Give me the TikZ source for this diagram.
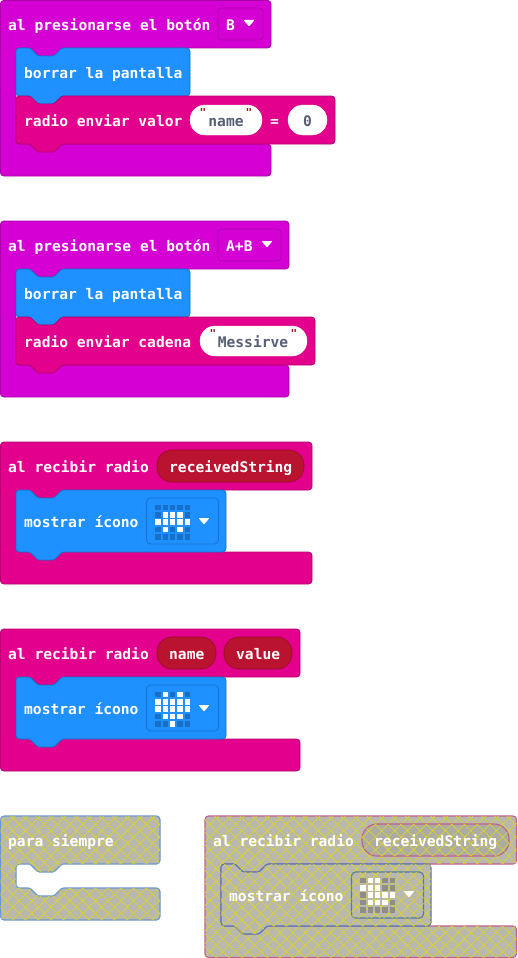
\documentclass[tikz,border=0pt]{standalone}
\usepackage{fontspec}
\setmonofont{DejaVu Sans Mono}
\usepackage{xcolor}
\usetikzlibrary{patterns.meta,positioning}
\definecolor{hatpurple}{HTML}{D400D4}
\definecolor{hatpurpleline}{HTML}{A800A8}
\definecolor{basicblue}{HTML}{1E90FF}
\definecolor{basicblueline}{HTML}{1873CC}
\definecolor{radiopink}{HTML}{E3008C}
\definecolor{radiopinkline}{HTML}{B6006F}
\definecolor{varred}{HTML}{BA1330}
\definecolor{varredline}{HTML}{950F26}
\definecolor{textslate}{HTML}{575E75}
\definecolor{quotered}{HTML}{A31515}
\definecolor{ledoff}{HTML}{176FC8}
\definecolor{ghostgray}{HTML}{B8B8AE}
\definecolor{ghostpill}{HTML}{ACACA2}
\definecolor{ghostled}{HTML}{8E8E86}
\definecolor{ghostyellow}{HTML}{D8D22E}
\definecolor{ghostblue}{HTML}{6A98D0}
\definecolor{ghostindigo}{HTML}{5A78B8}
\definecolor{ghostpink}{HTML}{C0608F}

% Block outlines, all in pixels of the reference
% hat block: x0, y0, x1, header bottom, lower bar top, y1, inner x
\newcommand{\hatpath}[7]{
    (#1,#2) -- (#3,#2) -- (#3,#4) [rounded corners=1.5pt] -- (#7+46,#4) -- (#7+38,#4+8) -- (#7+22,#4+8) -- (#7+14,#4) [rounded corners=3.5pt]
    -- (#7,#4) -- (#7,#5) [rounded corners=1.5pt] -- (#7+14,#5) -- (#7+22,#5+8) -- (#7+38,#5+8) -- (#7+46,#5) [rounded corners=3.5pt]
    -- (#3,#5) -- (#3,#6) -- (#1,#6) -- cycle
}
% statement block: x0, y0, x1, y1
\newcommand{\stmtpath}[4]{
    (#1,#2) [rounded corners=1.5pt] -- (#1+14,#2) -- (#1+22,#2+8) -- (#1+38,#2+8) -- (#1+46,#2) [rounded corners=3.5pt] -- (#3,#2)
    -- (#3,#4) [rounded corners=1.5pt] -- (#1+46,#4) -- (#1+38,#4+8) -- (#1+22,#4+8) -- (#1+14,#4) [rounded corners=3.5pt] -- (#1,#4) -- cycle
}
% dropdown triangle: center x, center y
\newcommand{\droptri}[2]{
    \fill[white, rounded corners=.8pt] (#1-5.5,#2-3) -- (#1+5.5,#2-3) -- (#1,#2+3.5) -- cycle;
}
% LED grid: x of first column, y of first row, colour of unlit, list of lit col/row
\newcommand{\ledgrid}[4]{
    \foreach \row in {0,...,4} {
        \foreach \col in {0,...,4} {
            \fill[#3] (#1+\col*7.33-2.8,#2+\row*7.33-2.8) rectangle ++(5.6,5.6);
        }
    }
    \foreach \col/\row in {#4} {
        \fill[white] (#1+\col*7.33-2.8,#2+\row*7.33-2.8) rectangle ++(5.6,5.6);
    }
}

\tikzset{
    lbl/.style={font=\ttfamily\bfseries\fontsize{14.6}{16}\selectfont, text=white, inner sep=0pt, anchor=base west},
    strlbl/.style={lbl, text=textslate, anchor=base},
    qmark/.style={font=\ttfamily\bfseries\fontsize{11}{12}\selectfont, text=quotered, inner sep=0pt, anchor=center},
    hatblock/.style={fill=hatpurple, draw=hatpurpleline, line width=.8pt, rounded corners=3.5pt},
    pinkblock/.style={fill=radiopink, draw=radiopinkline, line width=.8pt, rounded corners=3.5pt},
    blueblock/.style={fill=basicblue, draw=basicblueline, line width=.8pt, rounded corners=3.5pt},
    dropbox/.style={fill=hatpurple, draw=hatpurpleline, line width=.8pt, rounded corners=3.5pt},
    iconbox/.style={fill=basicblue, draw=basicblueline, line width=.8pt, rounded corners=4pt},
    whitepill/.style={fill=white, draw=white, rounded corners=15pt},
    varpill/.style={fill=varred, draw=varredline, line width=.6pt, rounded corners=15pt},
    ghosthatch/.style={postaction={pattern={Hatch[angle=45,distance=9pt,line width=.75pt]}, pattern color=ghostyellow}},
    ghostfill/.style={fill=ghostgray, ghosthatch, line width=1.1pt, rounded corners=3.5pt},
    ghostpillfill/.style={fill=ghostpill, ghosthatch, draw=ghostpink, line width=1.1pt, rounded corners=15pt},
}

\begin{document}
\begin{tikzpicture}[x=1pt,y=-1pt]
    \useasboundingbox (0,0) rectangle (517,958);

    % --- B button, send value
    \draw[hatblock] \hatpath{0.4}{0.4}{271}{48}{144}{176}{16};
    \draw[blueblock] \stmtpath{16}{48}{190}{96};
    \draw[pinkblock] \stmtpath{16}{96}{335}{144};
    \draw[dropbox] (218,8) rectangle (263,40);
    \node[lbl] (hatB) at (8,30.5) {al presionarse el botón};
    \node[lbl] (dropB) at (226,30.5) {B};
    \droptri{249}{23}
    \node[lbl] (clearB) at (24,78.5) {borrar la pantalla};
    \node[lbl] (sendB) at (24,126.5) {radio enviar valor};
    \draw[whitepill] (190,105) rectangle (262,135);
    \node[strlbl] (nameB) at (226,126.5) {name};
    \node[qmark] (qBa) at (203,112) {"};
    \node[qmark] (qBb) at (249,112) {"};
    \node[lbl] (eqB) at (270,126.5) {=};
    \draw[whitepill] (288,105) rectangle (327,135);
    \node[strlbl] (zeroB) at (307.5,126.5) {0};

    % --- A+B buttons, send string
    \draw[hatblock] \hatpath{0.4}{221}{289}{269}{365}{397}{16};
    \draw[blueblock] \stmtpath{16}{269}{190}{317};
    \draw[pinkblock] \stmtpath{16}{317}{315}{365};
    \draw[dropbox] (218,229) rectangle (281,261);
    \node[lbl] (hatAB) at (8,251.5) {al presionarse el botón};
    \node[lbl] (dropAB) at (226,251.5) {A+B};
    \droptri{267}{244}
    \node[lbl] (clearAB) at (24,299.5) {borrar la pantalla};
    \node[lbl] (sendAB) at (24,347.5) {radio enviar cadena};
    \draw[whitepill] (200,326) rectangle (307,356);
    \node[strlbl] (msgAB) at (253,347.5) {Messirve};
    \node[qmark] (qABa) at (213,333) {"};
    \node[qmark] (qABb) at (294,333) {"};

    % --- receive string
    \draw[pinkblock] \hatpath{0.4}{442}{312}{490}{552}{584}{16};
    \draw[blueblock] \stmtpath{16}{490}{226}{552};
    \draw[varpill] (157,450) rectangle (304,482);
    \node[lbl] (hatStr) at (8,472.5) {al recibir radio};
    \node[lbl] (varStr) at (169,472.5) {receivedString};
    \node[lbl] (showStr) at (24,527.5) {mostrar ícono};
    \draw[iconbox] (146.5,498) rectangle (218.5,544);
    \ledgrid{158}{507.5}{ledoff}{1/1,2/1,3/1,0/2,1/2,2/2,3/2,4/2,1/3,3/3}
    \droptri{204}{521}

    % --- receive name and value
    \draw[pinkblock] \hatpath{0.4}{629}{300}{677}{739}{771}{16};
    \draw[blueblock] \stmtpath{16}{677}{226}{739};
    \draw[varpill] (157,637) rectangle (216,669);
    \draw[varpill] (224,637) rectangle (292,669);
    \node[lbl] (hatVal) at (8,659.5) {al recibir radio};
    \node[lbl] (varName) at (169,659.5) {name};
    \node[lbl] (varValue) at (236,659.5) {value};
    \node[lbl] (showVal) at (24,714.5) {mostrar ícono};
    \draw[iconbox] (146.5,685) rectangle (218.5,731);
    \ledgrid{158}{694.5}{ledoff}{1/0,3/0,0/1,1/1,2/1,3/1,4/1,0/2,1/2,2/2,3/2,4/2,1/3,2/3,3/3,2/4}
    \droptri{204}{708}

    % --- disabled forever
    \draw[ghostfill, draw=ghostblue] \hatpath{0.5}{816}{160}{864}{888}{920}{16};
    \node[lbl] (hatForever) at (8,846.5) {para siempre};

    % --- disabled receive string
    \draw[ghostfill, draw=ghostpink] \hatpath{205}{816}{516.5}{864}{926}{957.5}{221};
    \draw[ghostfill, draw=ghostindigo] \stmtpath{221}{864}{431}{926};
    \draw[ghostpillfill] (362,824) rectangle (509,856);
    \node[lbl] (hatGhost) at (213,846.5) {al recibir radio};
    \node[lbl] (varGhost) at (374,846.5) {receivedString};
    \node[lbl] (showGhost) at (229,901.5) {mostrar ícono};
    \draw[ghostfill, draw=ghostblue!80!black, rounded corners=4pt] (351.5,872) rectangle (423.5,918);
    \ledgrid{363}{880.5}{ghostled}{1/0,2/0,0/1,1/1,2/1,1/2,2/2,3/2,4/2,1/3,2/3,3/3}
    \droptri{409}{894}
\end{tikzpicture}
\end{document}
